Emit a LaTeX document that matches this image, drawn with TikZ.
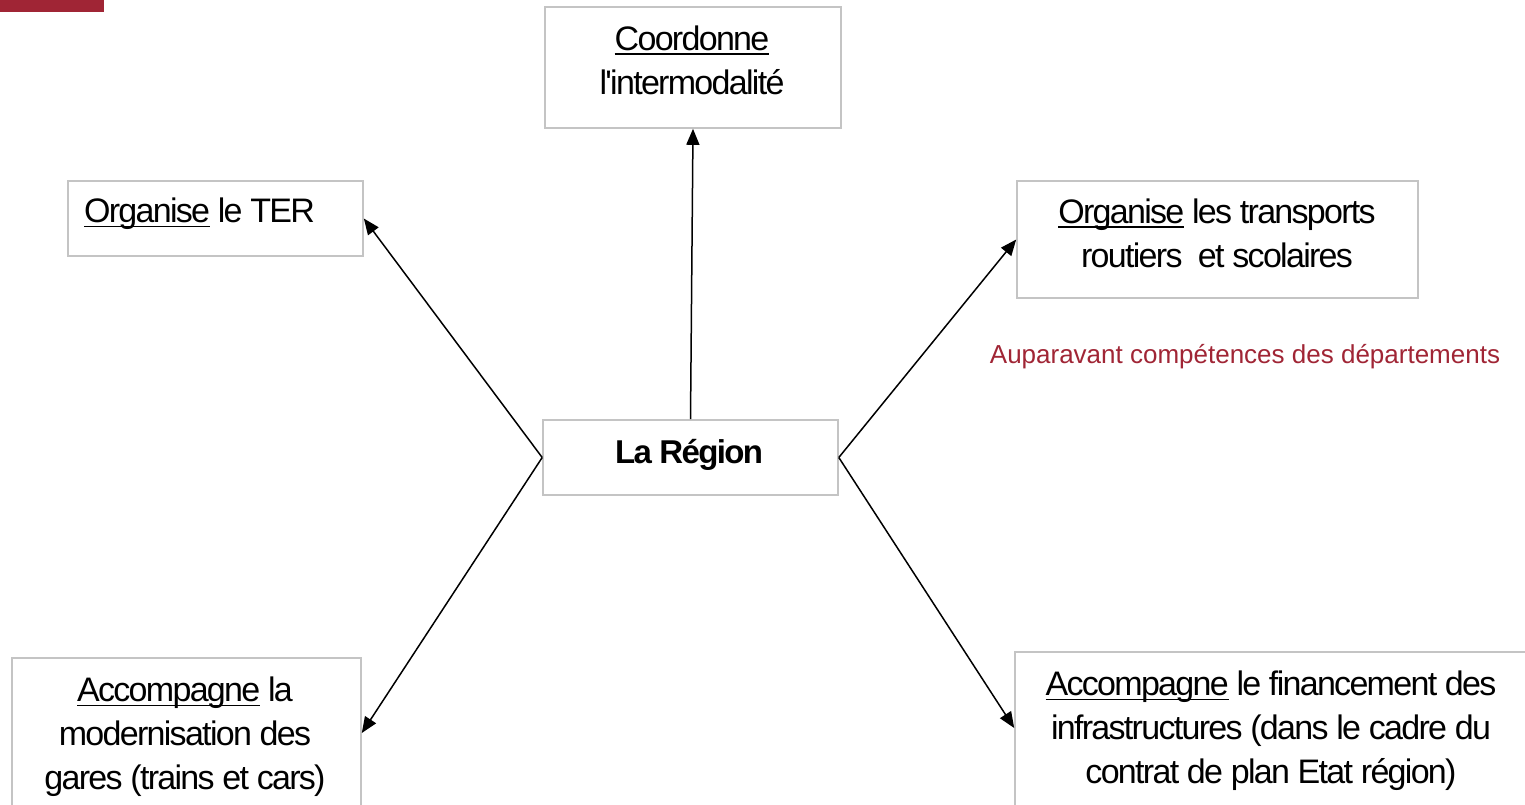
\documentclass[tikz,border=0pt]{standalone}
\usepackage{fontspec}
\setmainfont{Liberation Sans}
\newfontfamily\tight{Liberation Sans}[LetterSpace=-5]
\usetikzlibrary{arrows.meta}
\definecolor{bordeaux}{HTML}{A02535}
\definecolor{boxgray}{HTML}{C4C4C4}
\newsavebox{\myulbox}
\newcommand{\myul}[1]{\sbox{\myulbox}{#1}\rlap{\raisebox{-4.5pt}{\rule{\wd\myulbox}{1.5pt}}}\usebox{\myulbox}}
\begin{document}
\begin{tikzpicture}[x=1pt,y=-1pt,
  box/.style={draw=boxgray,line width=1.6pt,inner sep=0pt},
  lbl/.style={font=\tight\fontsize{34}{44}\selectfont,align=center,inner sep=0pt},
  conn/.style={line width=1.5pt,-{Triangle[length=16pt,width=13pt]}}]
\useasboundingbox (0,0) rectangle (1525,805);
\clip (0,0) rectangle (1525,805);
\fill[bordeaux] (0,0) rectangle (104,12);
% boxes
\node[box,minimum width=296pt,minimum height=121pt] (top) at (693,67.5) {};
\node[box,minimum width=295pt,minimum height=75pt] (ter) at (215.5,218.5) {};
\node[box,minimum width=401pt,minimum height=117pt] (rt) at (1217.5,239.5) {};
\node[box,minimum width=295pt,minimum height=75pt] (c) at (690.5,457.5) {};
\node[box,minimum width=349pt,minimum height=172pt] (bl) at (186.5,744) {};
\node[box,minimum width=525pt,minimum height=178pt] (br) at (1277.5,741) {};
% texts
\node[lbl] (ttop) at (692,60) {\myul{Coordonne}\\l'intermodalité};
\node[lbl] (tter) at (199.5,214) {\myul{Organise} le TER};
\node[lbl] (trt) at (1217,233) {\myul{Organise} les transports\\routiers \ et scolaires};
\node[lbl,font=\tight\bfseries\fontsize{33}{44}\selectfont] (tc) at (689,455) {La Région};
\node[lbl] (tbl) at (185,737) {\myul{Accompagne} la\\modernisation des\\gares (trains et cars)};
\node[lbl] (tbr) at (1271,731) {\myul{Accompagne} le financement des\\infrastructures (dans le cadre du\\contrat de plan Etat région)};
\node[font=\fontsize{26}{30}\selectfont,text=bordeaux,inner sep=0pt] (red) at (1245,357) {Auparavant compétences des départements};
% connectors
\draw[conn] (c.north) -- (top.south);
\draw[conn] (c.west) -- (ter.east);
\draw[conn] (c.west) -- ([yshift=11pt]bl.east);
\draw[conn] (c.east) -- (rt.west);
\draw[conn] (c.east) -- ([yshift=13pt]br.west);
\end{tikzpicture}
\end{document}
